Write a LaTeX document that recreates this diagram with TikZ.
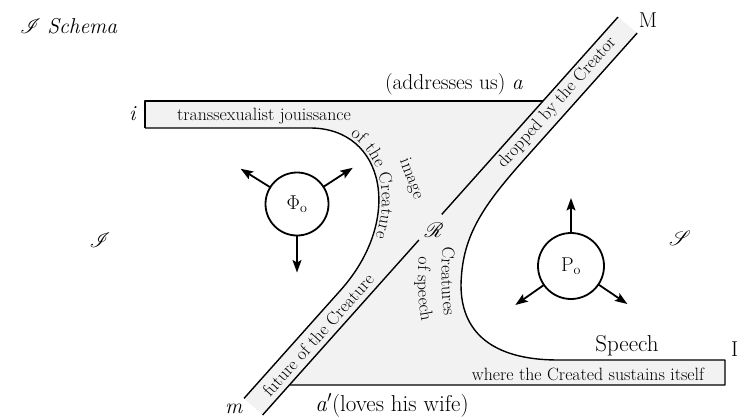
\RequirePackage{fix-cm}
\documentclass[tikz,border=0pt]{standalone}
\usepackage{mathrsfs}
\usetikzlibrary{arrows.meta,decorations.text}
\begin{document}
\begin{tikzpicture}[x=1pt,y=-1pt,
  every node/.style={inner sep=0pt, outer sep=0pt},
  lab/.style={font=\fontsize{21.5}{24}\selectfont},
  biglab/.style={font=\fontsize{23}{26}\selectfont},
  bandtxt/.style={font=\fontsize{17.8}{20}\selectfont},
  ln/.style={line width=1.4pt, line join=round},
  orb/.style={circle, draw, line width=1.8pt, font=\fontsize{20}{24}\selectfont},
  arr/.style={line width=1.8pt, -{Stealth[length=12.5pt,width=9pt,inset=2.5pt]}},
  shade/.style={fill=black!5}
]
\useasboundingbox (0,0) rectangle (738,417);

% light stippled area
\fill[shade] (145,101) -- (543,101) -- (618,17) -- (637.2,33) -- (523.8,160)
  .. controls (480.5,208.5) and (462,238) .. (461,285)
  .. controls (461,338) and (500,360) .. (558,360) -- (725,360) -- (725,385)
  -- (289.4,385) -- (262.6,415) -- (244,398.4) -- (340.75,290)
  .. controls (404,219) and (385,128) .. (310,128) -- (145,128) -- cycle;

% boundary lines
\draw[ln] (145,128) -- (145,101) -- (543,101);
\draw[ln] (145,128) -- (310,128) .. controls (385,128) and (404,219) .. (340.75,290) -- (244,398.4);
\draw[ln] (618,17) -- (441.75,214.4);
\draw[ln] (418.9,240) -- (262.6,415);
\draw[ln] (637.2,33) -- (523.8,160)
  .. controls (480.5,208.5) and (462,238) .. (461,285)
  .. controls (461,338) and (500,360) .. (558,360) -- (725,360) -- (725,385) -- (289.4,385);

% circles and arrows
\node[orb, minimum size=63pt] (phi) at (297,204) {$\Phi_{\mathrm{o}}$};
\node[orb, minimum size=66pt] (po) at (571,266) {$\mathrm{P}_{\mathrm{o}}$};
\draw[arr] (phi.148) -- ++(148:35pt);
\draw[arr] (phi.33) -- ++(33:35pt);
\draw[arr] (phi.270) -- ++(270:37pt);
\draw[arr] (po.90) -- ++(90:35pt);
\draw[arr] (po.215) -- ++(215:35pt);
\draw[arr] (po.326) -- ++(326:35pt);

% labels
\node[lab, anchor=base west] (title) at (20,34) {$\mathscr{I}$ \textit{Schema}};
\node[lab, anchor=base] (ilab) at (133,121) {\textit{i}};
\node[bandtxt, anchor=base] (tj) at (264,121) {transsexualist jouissance};
\node[lab, anchor=base] (addr) at (454,90) {(addresses us) \textit{a}};
\node[lab, anchor=base] (Mlab) at (648,28) {M};
\node[lab, anchor=base] (mlab) at (234,413) {\textit{m}};
\node[biglab, anchor=base] (aprime) at (392,411) {\textit{a}$'$(loves his wife)};
\node[biglab, anchor=base] (speech) at (627,351) {Speech};
\node[bandtxt, anchor=base] (wc) at (588,380) {where the Created sustains itself};
\node[lab] (Rl) at (434,230) {$\mathscr{R}$};
\node[lab] (Il) at (100,240) {$\mathscr{I}$};
\node[lab] (Sl) at (680,238) {$\mathscr{S}$};
\node[lab, anchor=base west] (Iedge) at (731,356) {I};

% band texts
\node[bandtxt, rotate=48.2] (dbc) at (557,103) {dropped by the Creator};
\node[bandtxt, rotate=48.2] (foc) at (318,335) {future of the Creature};
\node[bandtxt, rotate=-69] (img) at (411,179) {image};

% texts along curves
\path[decorate, decoration={text along path, text={|\fontsize{17.8}{20}\selectfont|of the Creature}, text align={left indent=40pt}, raise=3pt}]
  (310,128) .. controls (385,128) and (404,219) .. (340.75,290);
\path[decorate, decoration={text along path, text={|\fontsize{17.8}{20}\selectfont|Creatures}}]
  (443,247) .. controls (440,275) and (441,305) .. (448,336);
\path[decorate, decoration={text along path, text={|\fontsize{17.8}{20}\selectfont|of speech}}]
  (419,257) .. controls (416,285) and (418,315) .. (428,346);
\end{tikzpicture}
\end{document}
